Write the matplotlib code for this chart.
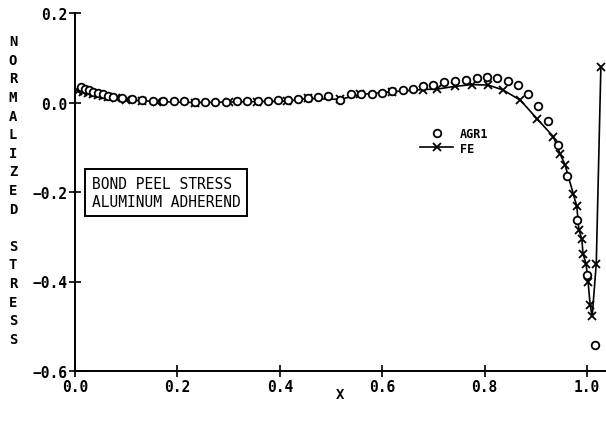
import matplotlib
matplotlib.use("Agg")
import matplotlib.pyplot as plt
from matplotlib.lines import Line2D

# ── data ──────────────────────────────────────────────────────────────────────
agr1_x = [0.012, 0.020, 0.028, 0.036, 0.045, 0.055, 0.065, 0.075, 0.092, 0.111,
          0.131, 0.152, 0.172, 0.193, 0.213, 0.234, 0.254, 0.273, 0.295, 0.316,
          0.336, 0.357, 0.377, 0.396, 0.416, 0.436, 0.455, 0.475, 0.494, 0.518,
          0.539, 0.559, 0.580, 0.600, 0.619, 0.641, 0.660, 0.680, 0.699, 0.721,
          0.742, 0.764, 0.785, 0.805, 0.824, 0.846, 0.865, 0.885, 0.904, 0.924,
          0.943, 0.961, 0.980, 1.000, 1.016]
agr1_y = [0.034, 0.030, 0.027, 0.024, 0.021, 0.018, 0.015, 0.013, 0.009, 0.007,
          0.006, 0.004, 0.004, 0.003, 0.003, 0.002, 0.002, 0.002, 0.002, 0.003,
          0.003, 0.004, 0.004, 0.005, 0.006, 0.008, 0.010, 0.013, 0.015, 0.005,
          0.018, 0.020, 0.020, 0.022, 0.025, 0.029, 0.031, 0.036, 0.040, 0.045,
          0.049, 0.051, 0.054, 0.056, 0.054, 0.047, 0.038, 0.020, -0.007, -0.042,
          -0.096, -0.165, -0.262, -0.385, -0.541]

fe_x = [0.005, 0.015, 0.025, 0.035, 0.045, 0.055, 0.065, 0.080, 0.100, 0.130,
        0.160, 0.234, 0.300, 0.355, 0.414, 0.455, 0.518, 0.557, 0.619, 0.680,
        0.707, 0.742, 0.775, 0.807, 0.836, 0.870, 0.902, 0.934, 0.947, 0.957,
        0.973, 0.980, 0.984, 0.990, 0.992, 0.998, 1.002, 1.006, 1.010, 1.018,
        1.027]
fe_y = [0.025, 0.023, 0.021, 0.018, 0.016, 0.014, 0.012, 0.009, 0.006, 0.004,
        0.002, 0.000, 0.001, 0.002, 0.003, 0.009, 0.007, 0.018, 0.024, 0.029,
        0.030, 0.036, 0.040, 0.039, 0.028, 0.005, -0.036, -0.076, -0.114, -0.139,
        -0.204, -0.232, -0.284, -0.306, -0.338, -0.360, -0.400, -0.452, -0.478, -0.360,
        0.080]

xticks = [0.0, 0.2, 0.4, 0.6, 0.8, 1.0]
yticks = [-0.6, -0.4, -0.2, 0.0, 0.2]

FONT = "DejaVu Sans Mono"

# ── figure ────────────────────────────────────────────────────────────────────
fig = plt.figure(figsize=(6.06, 4.31), dpi=100)
ax = fig.add_axes([75 / 606, 59 / 431, 531 / 606, 358 / 431])

ax.plot(fe_x, fe_y, color="black", linewidth=1.2, marker="x",
        markersize=5.5, markeredgewidth=1.3)
ax.plot(agr1_x, agr1_y, linestyle="none", marker="o", markersize=5.5,
        markerfacecolor="white", markeredgecolor="black", markeredgewidth=1.3)

ax.set_xlim(0, 1.037)
ax.set_ylim(-0.6, 0.2)
ax.spines["top"].set_visible(False)
ax.spines["right"].set_visible(False)
ax.spines["left"].set_linewidth(1.4)
ax.spines["bottom"].set_linewidth(1.4)
ax.set_xticks(xticks)
ax.set_yticks(yticks)
ax.set_xticklabels([f"{v:.1f}" for v in xticks])
ax.set_yticklabels([f"{v:.1f}".replace("-", "\u2212") for v in yticks])
ax.tick_params(direction="inout", length=9, width=1.2, pad=1)
for lab in ax.get_xticklabels() + ax.get_yticklabels():
    lab.set_fontfamily(FONT); lab.set_fontweight("bold"); lab.set_fontsize(10.5)

# x label
fig.text(340 / 606, 1 - 395 / 431, "X", family=FONT, weight="bold",
         fontsize=10, ha="center", va="center")

# stacked y label
ylab = "\n".join("NORMALIZED STRESS".replace(" ", "\u00a0"))
fig.text(13 / 606, 1 - 191 / 431, ylab, family=FONT, weight="bold",
         fontsize=10, ha="center", va="center", linespacing=1.42)

# annotation box
ax.text(0.033, -0.201, "BOND PEEL STRESS\nALUMINUM ADHEREND", family=FONT,
        fontsize=10.5, ha="left", va="center", linespacing=1.3,
        bbox=dict(boxstyle="square,pad=0.45", facecolor="white",
                  edgecolor="black", linewidth=1.4))

# legend
handles = [
    Line2D([], [], linestyle="none", marker="o", markersize=5.5,
           markerfacecolor="white", markeredgecolor="black", markeredgewidth=1.3),
    Line2D([], [], color="black", linewidth=1.2, marker="x", markersize=5.5,
           markeredgewidth=1.3),
]
leg = ax.legend(handles, ["AGR1", "FE"], frameon=False, loc="upper left",
                bbox_to_anchor=(0.63, 0.71), handlelength=2.8,
                labelspacing=0.1, handletextpad=0.6,
                prop={"family": FONT, "weight": "bold", "size": 8.5})

fig.savefig("out.png", dpi=100)
